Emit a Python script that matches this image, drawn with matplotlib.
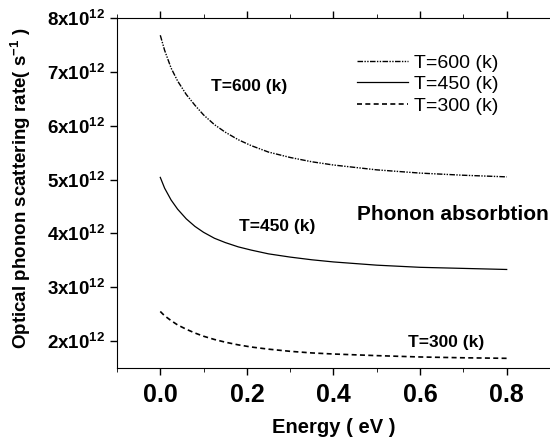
import numpy as np
import matplotlib
matplotlib.use("Agg")
import matplotlib.pyplot as plt
from matplotlib.ticker import MultipleLocator

plt.rcParams['font.family'] = ['Liberation Sans', 'DejaVu Sans']
plt.rcParams['mathtext.fontset'] = 'custom'
plt.rcParams['mathtext.rm'] = 'Liberation Sans'
plt.rcParams['mathtext.bf'] = 'Liberation Sans:bold'

# energy (eV) and scattering rates (units of 1e12 s^-1)
energy = [0.0, 0.01, 0.025, 0.04, 0.06, 0.08, 0.1, 0.125, 0.15, 0.18, 0.21,
          0.25, 0.3, 0.35, 0.4, 0.5, 0.6, 0.7, 0.8]
rate_600 = [7.68, 7.40, 7.07, 6.83, 6.58, 6.38, 6.20, 6.02, 5.88, 5.74, 5.63,
            5.51, 5.41, 5.33, 5.27, 5.18, 5.12, 5.08, 5.05]
rate_450 = [5.04, 4.84, 4.62, 4.45, 4.27, 4.13, 4.02, 3.91, 3.83, 3.75, 3.69,
            3.62, 3.56, 3.51, 3.47, 3.41, 3.37, 3.35, 3.33]
rate_300 = [2.55, 2.47, 2.38, 2.30, 2.22, 2.15, 2.09, 2.03, 1.98, 1.93, 1.89,
            1.85, 1.81, 1.78, 1.76, 1.73, 1.705, 1.69, 1.68]

yticks = [2, 3, 4, 5, 6, 7, 8]

fig = plt.figure(figsize=(5.5, 4.47), dpi=100)
ax = fig.add_axes([0.2127, 0.1767, 0.7873, 0.7830])

e = np.array(energy)
ax.plot(e, np.array(rate_600) * 1e12, color='k', lw=1.0, dashes=(4, 1, 1, 1, 1, 1), label='T=600 (k)')
ax.plot(e, np.array(rate_450) * 1e12, color='k', lw=0.9, label='T=450 (k)')
ax.plot(e, np.array(rate_300) * 1e12, color='k', lw=1.2, dashes=(3, 2), label='T=300 (k)')

ax.set_xlim(-0.1, 0.9)
ax.set_ylim(1.5e12, 8e12)
ax.xaxis.set_minor_locator(MultipleLocator(0.1))
ax.set_xticks([0.0, 0.2, 0.4, 0.6, 0.8])
ax.set_xticklabels(['0.0', '0.2', '0.4', '0.6', '0.8'], fontsize=18, fontweight='bold')
ax.set_yticks([v * 1e12 for v in yticks])
ax.set_yticklabels([r'$\mathbf{%dx10^{12}}$' % v for v in yticks], fontsize=13.5)
ax.tick_params(axis='both', which='major', direction='out', length=5, width=1)
ax.tick_params(axis='x', which='both', top=True, pad=6)
ax.tick_params(axis='x', which='both', top=True, bottom=False, length=2)
ax.tick_params(axis='x', which='major', bottom=True, length=5)
ax.tick_params(axis='x', which='minor', bottom=True, length=3)
ax.spines['right'].set_visible(False)

ax.set_xlabel('Energy ( eV )', fontsize=14.5, fontweight='bold', labelpad=8)
ax.set_ylabel(r'Optical phonon scattering rate( s$^{\mathbf{-1}}$ )', fontsize=13.5, fontweight='bold')
ax.yaxis.set_label_coords(-0.193, 0.514)

ax.text(0.118, 6.72e12, 'T=600 (k)', fontsize=12.5, fontweight='bold', va='center')
ax.text(0.182, 4.13e12, 'T=450 (k)', fontsize=12.5, fontweight='bold', va='center')
ax.text(0.454, 4.35e12, 'Phonon absorbtion', fontsize=15, fontweight='bold', va='center')
ax.text(0.573, 1.97e12, 'T=300 (k)', fontsize=12.5, fontweight='bold', va='center')

ax.legend(loc='upper left', bbox_to_anchor=(0.532, 0.925), frameon=False, fontsize=14,
          handlelength=2.6, handletextpad=0.35, labelspacing=0.2, borderpad=0)

fig.savefig('out.png', dpi=100)
